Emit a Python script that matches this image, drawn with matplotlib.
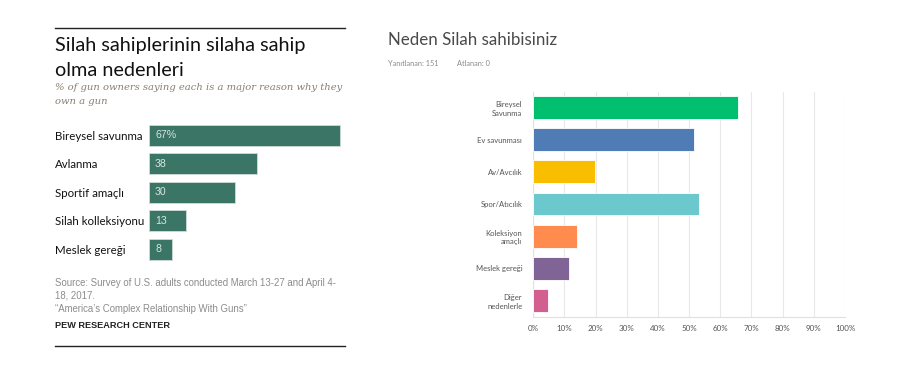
import matplotlib
matplotlib.use("Agg")
import matplotlib.pyplot as plt

# ---- data: left (Pew) panel ----
pew_categories = ["Bireysel savunma", "Avlanma", "Sportif amaçlı", "Silah kolleksiyonu", "Meslek gereği"]
pew_values = [67, 38, 30, 13, 8]
pew_labels = ["67%", "38", "30", "13", "8"]

# ---- data: right (survey) panel ----
survey_categories = ["Bireysel\nSavunma", "Ev savunması", "Av/Avcılık", "Spor/Atıcılık",
                     "Koleksiyon\namaçlı", "Meslek gereği", "Diğer\nnedenlerle"]
survey_values = [65.6, 51.7, 19.9, 53.0, 13.9, 11.3, 4.6]
survey_colors = ["#00bf6f", "#507cb6", "#f9be00", "#6bc8cd", "#ff8b4f", "#7f6495", "#d25f90"]
survey_ticks = [0, 10, 20, 30, 40, 50, 60, 70, 80, 90, 100]
survey_ticklabels = [f"{t}%" for t in survey_ticks]

W, H = 908, 378
fig = plt.figure(figsize=(W / 100, H / 100), dpi=100)
fig.patch.set_facecolor("white")

def fx(x):
    return x / W

def fy(y):
    return 1 - y / H

def add_axes_px(x0, y0, x1, y1):
    return fig.add_axes([fx(x0), fy(y1), (x1 - x0) / W, (y1 - y0) / H])

# ---------------- left panel ----------------
fig.add_artist(plt.Line2D([fx(55), fx(345)], [fy(28), fy(28)], color="#222222", lw=1.0))
fig.add_artist(plt.Line2D([fx(55), fx(345)], [fy(346), fy(346)], color="#222222", lw=1.0))

fig.text(fx(55), fy(45), "Silah sahiplerinin silaha sahip", fontsize=14.3, family="Lato",
         color="#111111", va="center", ha="left")
fig.text(fx(55), fy(70), "olma nedenleri", fontsize=14.3, family="Lato",
         color="#111111", va="center", ha="left")
fig.text(fx(55), fy(88), "% of gun owners saying each is a major reason why they", fontsize=7.2,
         family="DejaVu Serif", style="italic", color="#8a7e72", va="center", ha="left")
fig.text(fx(55), fy(101), "own a gun", fontsize=7.2,
         family="DejaVu Serif", style="italic", color="#8a7e72", va="center", ha="left")

axl = add_axes_px(149, 121.3, 345, 263.2)
px_per_unit = 2.85
axl.set_xlim(0, 196 / px_per_unit)
ypos = list(range(len(pew_categories)))
axl.barh(ypos, pew_values, height=0.74, color="#3a7566", edgecolor="#cfdcd7", linewidth=0.6)
axl.set_ylim(len(pew_categories) - 0.5, -0.5)
axl.set_yticks(ypos)
axl.set_yticklabels(pew_categories, fontsize=8.3, family="Lato", color="#111111", ha="left")
axl.tick_params(axis="y", length=0, pad=94 * 0.72)
axl.set_xticks([])
for s in axl.spines.values():
    s.set_visible(False)
for y, lab in zip(ypos, pew_labels):
    axl.text(6 / px_per_unit, y, lab, fontsize=7.6, family="Liberation Sans",
             color="#d8e6e0", va="center", ha="left")

src_kw = dict(fontsize=6.9, family="Liberation Sans", color="#8c8c8c", va="center", ha="left")
fig.text(fx(55), fy(283), "Source: Survey of U.S. adults conducted March 13-27 and April 4-", **src_kw)
fig.text(fx(55), fy(296), "18, 2017.", **src_kw)
fig.text(fx(55), fy(309), "\u201cAmerica\u2019s Complex Relationship With Guns\u201d", **src_kw)
fig.text(fx(55), fy(326), "PEW RESEARCH CENTER", fontsize=6.6, family="Liberation Sans",
         weight="bold", color="#222222", va="center", ha="left")

# ---------------- right panel ----------------
fig.text(fx(388), fy(40), "Neden Silah sahibisiniz", fontsize=12.2, family="Lato",
         color="#4a4a4a", va="center", ha="left")
fig.text(fx(388), fy(64), "Yanıtlanan: 151", fontsize=5.3, family="Lato",
         color="#8a8a8a", va="center", ha="left")
fig.text(fx(457), fy(64), "Atlanan: 0", fontsize=5.3, family="Lato",
         color="#8a8a8a", va="center", ha="left")

axr = add_axes_px(533.3, 91.5, 845, 316.5)
yr = list(range(len(survey_categories)))
axr.barh(yr, survey_values, height=0.71, color=survey_colors, edgecolor="white",
         linewidth=0.6, zorder=3)
axr.set_xlim(0, 100)
axr.set_ylim(len(survey_categories) - 0.5, -0.5)
axr.set_xticks(survey_ticks)
axr.set_xticklabels(survey_ticklabels, fontsize=5.8, family="Lato", color="#555555")
axr.set_yticks(yr)
axr.set_yticklabels(survey_categories, fontsize=5.5, family="Lato", color="#555555",
                    ha="right", linespacing=1.3)
axr.tick_params(axis="y", length=0, pad=8)
axr.tick_params(axis="x", length=0, pad=6)
axr.grid(axis="x", color="#e8e8e8", linewidth=0.8, zorder=0)
axr.set_axisbelow(True)
for name, s in axr.spines.items():
    s.set_visible(False)
axr.spines["left"].set_visible(True)
axr.spines["left"].set_color("#e0e0e0")
axr.spines["bottom"].set_visible(True)
axr.spines["bottom"].set_color("#e0e0e0")

fig.savefig("out.png", dpi=100, facecolor="white")
